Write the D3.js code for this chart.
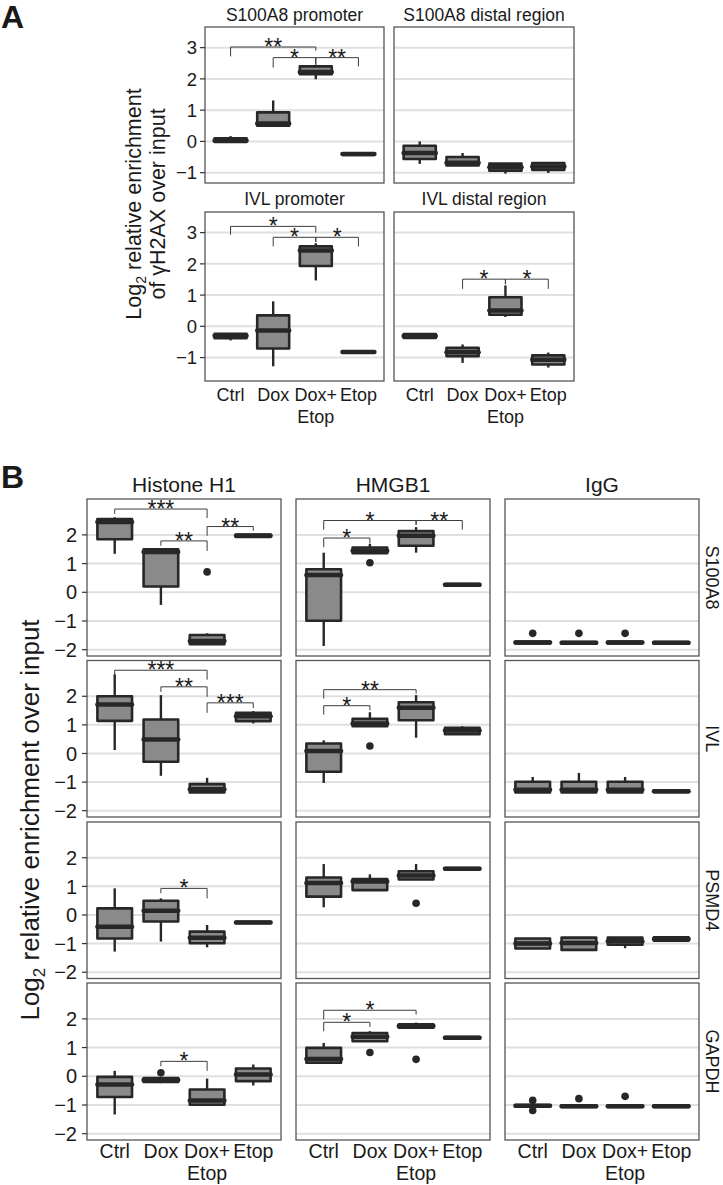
<!DOCTYPE html>
<html><head><meta charset="utf-8">
<script src="https://cdn.jsdelivr.net/npm/d3@7"></script>
<style>body{margin:0;background:#fff} svg{display:block} text{font-family:"Liberation Sans",Arial,sans-serif;fill:#1a1a1a}</style>
</head><body>
<svg id="c" width="723" height="1185"></svg>
<script>
// ---------- DATA ----------
const categories = ["Ctrl","Dox","Dox+Etop","Etop"];
const categoryLabelLines = [["Ctrl"],["Dox"],["Dox+","Etop"],["Etop"]];
const yTicksA = [-1,0,1,2,3];
const yTicksB = [-2,-1,0,1,2];
const panelATitles = ["S100A8 promoter","S100A8 distal region","IVL promoter","IVL distal region"];
const panelBColumns = ["Histone H1","HMGB1","IgG"];
const panelBRows = ["S100A8","IVL","PSMD4","GAPDH"];

// box stats per category: [lowerWhisker, q1, median, q3, upperWhisker]
const aS100A8Prom = [[-0.03,-0.02,0.03,0.1,0.17],[0.5,0.5,0.57,0.93,1.31],[1.99,2.15,2.22,2.4,2.44],[-0.43,-0.43,-0.4,-0.38,-0.38]];
const aS100A8Dist = [[-0.72,-0.56,-0.37,-0.14,0.0],[-0.77,-0.77,-0.68,-0.5,-0.37],[-1.03,-0.94,-0.83,-0.71,-0.71],[-1.01,-0.91,-0.8,-0.69,-0.69]];
const aIVLProm = [[-0.45,-0.38,-0.3,-0.24,-0.22],[-1.28,-0.71,-0.13,0.35,0.8],[1.47,1.93,2.43,2.56,2.66],[-0.84,-0.84,-0.82,-0.8,-0.8]];
const aIVLDist = [[-0.38,-0.37,-0.31,-0.25,-0.24],[-1.17,-0.96,-0.83,-0.69,-0.58],[0.3,0.37,0.51,0.93,1.31],[-1.32,-1.22,-1.07,-0.93,-0.84]];

// significance brackets: [fromCat, toCat, y, leftTipEnd, rightTipEnd, label]
const aS100A8PromSig = [[0,2,3.02,2.72,2.9,"**"],[1,2,2.68,2.36,2.45,"*"],[2,3,2.68,2.45,2.4,"**"]];
const aIVLPromSig = [[0,2,3.2,2.93,3.0,"*"],[1,2,2.85,2.56,2.7,"*"],[2,3,2.85,2.7,2.56,"*"]];
const aIVLDistSig = [[1,2,1.51,1.2,1.35,"*"],[2,3,1.51,1.35,1.2,"*"]];

const bH1_S100A8 = [[1.34,1.85,2.45,2.55,2.61],[-0.44,0.2,1.4,1.5,1.5],[-1.81,-1.81,-1.7,-1.49,-1.43],[1.93,1.93,1.97,2.01,2.01]];
const bH1_S100A8Out = [[],[],[0.71],[]];
const bHMGB1_S100A8 = [[-1.87,-0.99,0.6,0.8,1.38],[1.36,1.36,1.45,1.56,1.69],[1.38,1.62,1.97,2.13,2.27],[0.23,0.23,0.26,0.29,0.29]];
const bHMGB1_S100A8Out = [[],[1.03],[],[]];
const bIgG_S100A8 = [[-1.78,-1.78,-1.75,-1.72,-1.72],[-1.79,-1.79,-1.76,-1.73,-1.73],[-1.78,-1.78,-1.75,-1.72,-1.72],[-1.79,-1.79,-1.76,-1.73,-1.73]];
const bIgG_S100A8Out = [[-1.43],[-1.43],[-1.43],[]];

const bH1_IVL = [[0.12,1.14,1.71,2.0,2.77],[-0.78,-0.29,0.49,1.19,2.04],[-1.36,-1.36,-1.25,-1.07,-0.85],[1.05,1.13,1.3,1.42,1.48]];
const bHMGB1_IVL = [[-1.03,-0.64,0.09,0.35,0.46],[0.95,0.95,1.05,1.21,1.44],[0.55,1.16,1.6,1.79,2.04],[0.67,0.67,0.8,0.9,0.95]];
const bHMGB1_IVLOut = [[],[0.26],[],[]];
const bIgG_IVL = [[-1.36,-1.36,-1.27,-0.99,-0.82],[-1.36,-1.36,-1.27,-0.99,-0.68],[-1.36,-1.36,-1.27,-0.99,-0.82],[-1.35,-1.35,-1.32,-1.29,-1.29]];

const bH1_PSMD4 = [[-1.28,-0.82,-0.41,0.23,0.93],[-0.93,-0.23,0.15,0.5,0.58],[-1.13,-0.99,-0.8,-0.58,-0.35],[-0.28,-0.28,-0.26,-0.24,-0.24]];
const bHMGB1_PSMD4 = [[0.27,0.64,1.12,1.31,1.78],[0.87,0.87,1.17,1.26,1.42],[1.24,1.24,1.38,1.53,1.78],[1.6,1.6,1.62,1.64,1.64]];
const bHMGB1_PSMD4Out = [[],[],[0.41],[]];
const bIgG_PSMD4 = [[-1.17,-1.17,-1.0,-0.82,-0.82],[-1.22,-1.22,-0.98,-0.79,-0.76],[-1.16,-1.04,-0.92,-0.79,-0.79],[-0.9,-0.9,-0.84,-0.78,-0.76]];

const bH1_GAPDH = [[-1.33,-0.72,-0.29,-0.02,0.19],[-0.24,-0.2,-0.13,-0.06,-0.06],[-0.99,-0.99,-0.84,-0.46,-0.08],[-0.32,-0.17,0.06,0.27,0.41]];
const bH1_GAPDHOut = [[],[0.12],[],[]];
const bHMGB1_GAPDH = [[0.47,0.47,0.6,0.99,1.16],[1.22,1.22,1.38,1.51,1.57],[1.69,1.69,1.75,1.81,1.87],[1.31,1.31,1.34,1.37,1.37]];
const bHMGB1_GAPDHOut = [[],[0.83],[0.59],[]];
const bIgG_GAPDH = [[-1.06,-1.06,-1.03,-1.0,-1.0],[-1.07,-1.07,-1.04,-1.01,-1.01],[-1.07,-1.07,-1.04,-1.01,-1.01],[-1.07,-1.07,-1.04,-1.01,-1.01]];
const bIgG_GAPDHOut = [[-0.84,-1.19],[-0.78],[-0.7],[]];

const bH1_S100A8Sig = [[0,2,2.9,2.73,2.59,"***"],[1,2,1.79,1.62,1.44,"**"],[2,3,2.29,1.97,2.14,"**"]];
const bHMGB1_S100A8Sig = [[0,2,2.5,2.18,2.35,"*"],[0,1,1.89,1.57,1.71,"*"],[2,3,2.5,2.35,2.18,"**"]];
const bH1_IVLSig = [[0,2,2.91,2.77,2.58,"***"],[1,2,2.33,2.15,1.98,"**"],[2,3,1.77,1.42,1.59,"***"]];
const bHMGB1_IVLSig = [[0,2,2.23,1.92,2.09,"**"],[0,1,1.67,1.36,1.51,"*"]];
const bH1_PSMD4Sig = [[1,2,0.93,0.76,0.58,"*"]];
const bH1_GAPDHSig = [[1,2,0.52,0.35,0.19,"*"]];
const bHMGB1_GAPDHSig = [[0,2,2.3,1.98,2.15,"*"],[0,1,1.88,1.57,1.72,"*"]];

// ---------- DRAWING ----------
const svg = d3.select("#c");
const DARK = "#272727", FILL = "#8a8a8a", GRID = "#e0e0e0", BORDER = "#555";

function drawPanel(o) {
  const g = svg.append("g");
  const x = d3.scaleBand().domain(categories).range([o.x0, o.x1]).paddingInner(0.25).paddingOuter(0.225);
  const y = d3.scaleLinear().domain(o.domain).range([o.y1, o.y0]);
  g.append("rect").attr("x", o.x0).attr("y", o.y0).attr("width", o.x1 - o.x0).attr("height", o.y1 - o.y0).attr("fill", "#fff");
  g.selectAll(".grid").data(o.ticks).enter().append("line")
    .attr("x1", o.x0).attr("x2", o.x1).attr("y1", d => y(d)).attr("y2", d => y(d))
    .attr("stroke", GRID).attr("stroke-width", 2);
  const bw = x.bandwidth();
  o.stats.forEach((s, i) => {
    const cx = x(categories[i]) + bw / 2;
    const bg = g.append("g");
    bg.append("line").attr("x1", cx).attr("x2", cx).attr("y1", y(s[0])).attr("y2", y(s[1])).attr("stroke", DARK).attr("stroke-width", 2.4);
    bg.append("line").attr("x1", cx).attr("x2", cx).attr("y1", y(s[3])).attr("y2", y(s[4])).attr("stroke", DARK).attr("stroke-width", 2.4);
    bg.append("rect").attr("x", x(categories[i])).attr("y", y(s[3])).attr("width", bw).attr("height", Math.max(0.5, y(s[1]) - y(s[3])))
      .attr("fill", FILL).attr("stroke", DARK).attr("stroke-width", 2.6).attr("stroke-linejoin", "round");
    bg.append("line").attr("x1", x(categories[i])).attr("x2", x(categories[i]) + bw).attr("y1", y(s[2])).attr("y2", y(s[2]))
      .attr("stroke", DARK).attr("stroke-width", 4.5).attr("stroke-linecap", "round");
    (o.outliers ? o.outliers[i] : []).forEach(v => {
      bg.append("circle").attr("cx", cx).attr("cy", y(v)).attr("r", 3.8).attr("fill", DARK);
    });
  });
  (o.sig || []).forEach(b => {
    const xa = x(categories[b[0]]) + bw / 2, xb = x(categories[b[1]]) + bw / 2;
    g.append("path").attr("d", `M${xa},${y(b[3])}V${y(b[2])}H${xb}V${y(b[4])}`)
      .attr("fill", "none").attr("stroke", "#3c3c3c").attr("stroke-width", 1);
    g.append("text").attr("x", (xa + xb) / 2).attr("y", y(b[2]) + 8).attr("text-anchor", "middle")
      .style("font-size", "23px").text(b[5]);
  });
  g.append("rect").attr("x", o.x0).attr("y", o.y0).attr("width", o.x1 - o.x0).attr("height", o.y1 - o.y0)
    .attr("fill", "none").attr("stroke", BORDER).attr("stroke-width", 1.3);
  if (o.yAxis) {
    o.ticks.forEach(t => {
      g.append("line").attr("x1", o.x0 - 5).attr("x2", o.x0).attr("y1", y(t)).attr("y2", y(t)).attr("stroke", "#333").attr("stroke-width", 1.2);
      g.append("text").attr("x", o.x0 - o.tickGap).attr("y", y(t)).attr("dy", "0.36em").attr("text-anchor", "end")
        .style("font-size", o.tickFont + "px").text(t < 0 ? "\u2212" + Math.abs(t) : t);
    });
  }
  if (o.xAxis) {
    categoryLabelLines.forEach((lines, i) => {
      const cx = x(categories[i]) + bw / 2;
      lines.forEach((ln, k) => {
        g.append("text").attr("x", cx).attr("y", o.xLabelY + k * o.xLineH).attr("text-anchor", "middle")
          .style("font-size", o.xFont + "px").text(ln);
      });
    });
  }
  return {x, y};
}

// Panel A
svg.append("text").attr("x", 1).attr("y", 28).style("font-size", "32px").style("font-weight", "bold").text("A");
const aCols = [[205, 384], [394, 574]];
const aRows = [[27, 183, [-1.33, 3.66]], [212, 381, [-1.75, 3.66]]];
const aStats = [aS100A8Prom, aS100A8Dist, aIVLProm, aIVLDist];
const aSig = [aS100A8PromSig, [], aIVLPromSig, aIVLDistSig];
const aTitleY = [21, 205];
aStats.forEach((st, k) => {
  const r = Math.floor(k / 2), c = k % 2;
  drawPanel({x0: aCols[c][0], x1: aCols[c][1], y0: aRows[r][0], y1: aRows[r][1], domain: aRows[r][2], stats: st, sig: aSig[k],
    ticks: yTicksA, yAxis: c === 0, tickGap: 8, tickFont: 18.5, xAxis: r === 1, xLabelY: 401, xLineH: 22, xFont: 18});
  svg.append("text").attr("x", (aCols[c][0] + aCols[c][1]) / 2).attr("y", aTitleY[r]).attr("text-anchor", "middle")
    .style("font-size", "17.5px").text(panelATitles[k]);
});
// A y title
const aty = svg.append("text").attr("transform", "translate(141,204) rotate(-90)").attr("text-anchor", "middle").style("font-size", "21.5px");
aty.append("tspan").text("Log");
aty.append("tspan").attr("dy", 5).style("font-size", "14px").text("2");
aty.append("tspan").attr("dy", -5).text(" relative enrichment");
svg.append("text").attr("transform", "translate(165,204) rotate(-90)").attr("text-anchor", "middle").style("font-size", "21.5px").text("of \u03B3H2AX over input");

// Panel B
svg.append("text").attr("x", 1).attr("y", 488).style("font-size", "32px").style("font-weight", "bold").text("B");
const bCols = [[87, 281], [296, 490], [505, 699]];
const bRows = [[499, 656], [660.5, 817], [822, 978.5], [983, 1140]];
const bDomain = [-2.22, 3.25];
const bStats = [
  [bH1_S100A8, bHMGB1_S100A8, bIgG_S100A8],
  [bH1_IVL, bHMGB1_IVL, bIgG_IVL],
  [bH1_PSMD4, bHMGB1_PSMD4, bIgG_PSMD4],
  [bH1_GAPDH, bHMGB1_GAPDH, bIgG_GAPDH]];
const bOut = [
  [bH1_S100A8Out, bHMGB1_S100A8Out, bIgG_S100A8Out],
  [null, bHMGB1_IVLOut, null],
  [null, bHMGB1_PSMD4Out, null],
  [bH1_GAPDHOut, bHMGB1_GAPDHOut, bIgG_GAPDHOut]];
const bSig = [
  [bH1_S100A8Sig, bHMGB1_S100A8Sig, []],
  [bH1_IVLSig, bHMGB1_IVLSig, []],
  [bH1_PSMD4Sig, [], []],
  [bH1_GAPDHSig, bHMGB1_GAPDHSig, []]];
bStats.forEach((row, r) => {
  row.forEach((st, c) => {
    drawPanel({x0: bCols[c][0], x1: bCols[c][1], y0: bRows[r][0], y1: bRows[r][1], domain: bDomain, stats: st,
      outliers: bOut[r][c], sig: bSig[r][c], ticks: yTicksB, yAxis: c === 0, tickGap: 10, tickFont: 20,
      xAxis: r === 3, xLabelY: 1158, xLineH: 22, xFont: 19.5});
  });
  svg.append("text").attr("transform", `translate(706,${(bRows[r][0] + bRows[r][1]) / 2}) rotate(90)`).attr("text-anchor", "middle")
    .style("font-size", "18px").text(panelBRows[r]);
});
panelBColumns.forEach((t, c) => {
  svg.append("text").attr("x", (bCols[c][0] + bCols[c][1]) / 2).attr("y", 492).attr("text-anchor", "middle").style("font-size", "21px").text(t);
});
const bty = svg.append("text").attr("transform", "translate(39,820) rotate(-90)").attr("text-anchor", "middle").style("font-size", "26px");
bty.append("tspan").text("Log");
bty.append("tspan").attr("dy", 6).style("font-size", "17px").text("2");
bty.append("tspan").attr("dy", -6).text(" relative enrichment over input");
</script></body></html>
